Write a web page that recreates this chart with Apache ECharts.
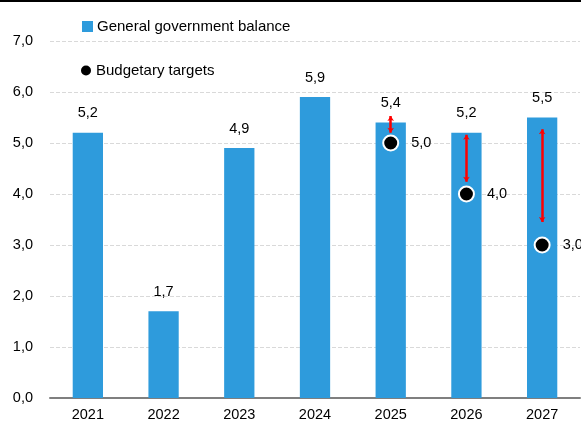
<!DOCTYPE html>
<html>
<head>
<meta charset="utf-8">
<script src="https://cdn.jsdelivr.net/npm/echarts@6/dist/echarts.min.js"></script>
<style>
  html, body { margin: 0; padding: 0; background: #fff; }
  #main { width: 581px; height: 426px; }
</style>
</head>
<body>
<div id="main"></div>
<script>
// data
const years = ["2021", "2022", "2023", "2024", "2025", "2026", "2027"];
const balance = [5.2, 1.7, 4.9, 5.9, 5.4, 5.2, 5.5];
const targets = [null, null, null, null, 5.0, 4.0, 3.0];
// red gap arrows: [year, from, to]
const gapArrows = [
  ["2025", 5.53, 5.2],
  ["2026", 5.16, 4.24],
  ["2027", 5.27, 3.45]
];

let myChart = echarts.init(document.getElementById("main"));

const fmt = (v) => v.toFixed(1).replace(".", ",");
const font = "'Liberation Sans', Arial, sans-serif";

let options = {
  animation: false,
  textStyle: { fontFamily: font },
  grid: { left: 50, right: 1, top: 41, bottom: 28 },
  legend: [
    {
      data: ["General government balance"],
      left: 82, top: 19, padding: 0,
      icon: "rect", itemWidth: 11, itemHeight: 11,
      textStyle: { fontSize: 15, color: "#000", fontFamily: font, padding: [0, 0, 0, -1] }
    },
    {
      data: ["Budgetary targets"],
      left: 81, top: 63, padding: 0,
      icon: "circle", itemWidth: 10, itemHeight: 10,
      itemStyle: { borderWidth: 0, opacity: 1 },
      textStyle: { fontSize: 15, color: "#000", fontFamily: font }
    }
  ],
  xAxis: {
    type: "category",
    data: years,
    axisLine: { lineStyle: { color: "#7f7f7f", width: 2 } },
    axisTick: { show: false },
    axisLabel: { color: "#000", fontSize: 14.5, margin: 9, fontFamily: font }
  },
  yAxis: {
    type: "value",
    min: 0, max: 7, interval: 1,
    axisLine: { show: false },
    axisTick: { show: false },
    axisLabel: { color: "#000", fontSize: 14.5, margin: 17, fontFamily: font, formatter: (v) => fmt(v) },
    splitLine: { lineStyle: { color: "#d9d9d9", type: "dashed", width: 1 } }
  },
  series: [
    {
      name: "General government balance",
      type: "bar",
      data: balance,
      barWidth: "40%",
      itemStyle: { color: "#2e9bdc" },
      label: {
        show: true, position: "top", distance: 12,
        color: "#000", fontSize: 14.5, fontFamily: font,
        formatter: (p) => fmt(p.value)
      },
      z: 2
    },
    {
      name: "gap",
      type: "lines",
      coordinateSystem: "cartesian2d",
      data: gapArrows.map((a) => ({ coords: [[a[0], a[1]], [a[0], a[2]]] })),
      symbol: ["arrow", "arrow"],
      symbolSize: [5, 5],
      lineStyle: { color: "#ff0000", width: 2.5, opacity: 1 },
      z: 3
    },
    {
      name: "Budgetary targets",
      type: "scatter",
      data: targets,
      symbol: "circle",
      symbolSize: 15,
      itemStyle: { color: "#000", borderColor: "#fff", borderWidth: 2, opacity: 1 },
      label: {
        show: true, position: "right", distance: 12,
        color: "#000", fontSize: 14.5, fontFamily: font,
        formatter: (p) => fmt(p.value)
      },
      z: 4
    }
  ],
  graphic: [
    {
      type: "line",
      shape: { x1: 0, y1: 1, x2: 581, y2: 1 },
      style: { stroke: "#000", lineWidth: 2 }
    }
  ]
};

myChart.setOption(options);
</script>
</body>
</html>
